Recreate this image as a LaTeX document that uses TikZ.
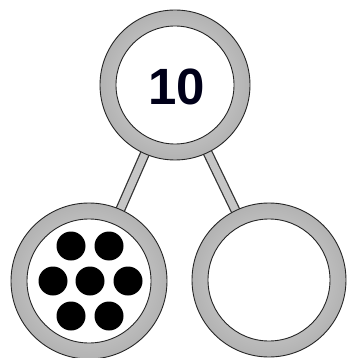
\documentclass[tikz,border=0pt]{standalone}
\usepackage{fontspec}
\setmainfont{Liberation Sans}
\begin{document}
\begin{tikzpicture}[x=1pt,y=-1pt,
  ringout/.style={circle,draw=black!85,line width=0.9pt,inner sep=0pt,
    inner color=gray!25,outer color=gray!60,minimum size=#1},
  ringin/.style={circle,draw=black!85,line width=0.9pt,fill=white,inner sep=0pt,minimum size=#1},
  dot/.style={circle,fill=black,inner sep=0pt,minimum size=29pt},
  stickout/.style={line width=10pt,draw=black!80},
  stickin/.style={line width=7.5pt,draw=gray!45}]
\useasboundingbox (0,0) rectangle (346,358);
% anchor coordinates
\coordinate (tc) at (175,85);
\coordinate (lc) at (89,281);
\coordinate (rc) at (269,280);
% sticks (behind)
\draw[stickout] (tc) -- (lc);
\draw[stickin] (tc) -- (lc);
\draw[stickout] (tc) -- (rc);
\draw[stickin] (tc) -- (rc);
% top ring
\node[ringout=150pt] (top) at (tc) {};
\node[ringin=118pt] (topin) at (tc) {};
\node[font=\bfseries\fontsize{51}{51}\selectfont,text=black!90!blue] (ten) at (177,87) {10};
% left ring
\node[ringout=156pt] (left) at (lc) {};
\node[ringin=124pt] (leftin) at (lc) {};
% right ring
\node[ringout=154pt] (right) at (rc) {};
\node[ringin=122pt] (rightin) at (rc) {};
% dots
\node[dot] (d1) at (71,246) {};
\node[dot] (d2) at (109,246) {};
\node[dot] (d3) at (53,281) {};
\node[dot] (d4) at (90,281) {};
\node[dot] (d5) at (128,281) {};
\node[dot] (d6) at (71,316) {};
\node[dot] (d7) at (109,316) {};
\end{tikzpicture}
\end{document}
